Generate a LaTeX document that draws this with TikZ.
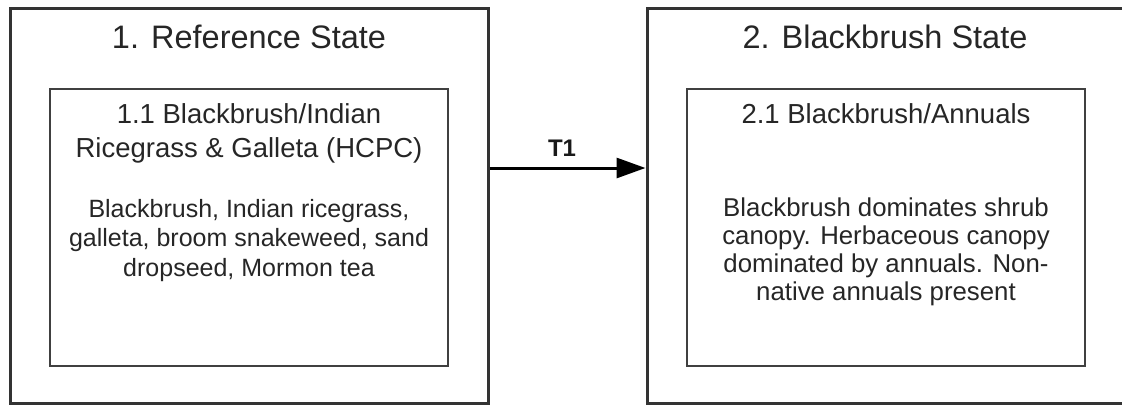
\documentclass[tikz,border=0pt]{standalone}
\usepackage{fontspec}
\setmainfont{Liberation Sans}
\usetikzlibrary{arrows.meta}
\begin{document}
\begin{tikzpicture}[x=1pt,y=-1pt,
  outerbox/.style={draw=black!80,line width=3pt,inner sep=0pt},
  innerbox/.style={draw=black!75,line width=2pt,inner sep=0pt},
  titletext/.style={anchor=base,text=black!85,font=\fontsize{32.5}{38}\selectfont},
  headtext/.style={anchor=base,text=black!85,align=center,font=\fontsize{27.5}{34}\selectfont},
  bodytext/.style={anchor=base,text=black!85,align=center,font=\fontsize{25}{29.5}\selectfont},
  conn/.style={draw=black,line width=3pt,-{Triangle[length=29pt,width=20pt]}},
  connlabel/.style={anchor=base,text=black!90,font=\bfseries\fontsize{24}{28}\selectfont}]
\useasboundingbox (0,0) rectangle (1122,405);
\clip (0,0) rectangle (1122,405);
% outer state boxes
\node[outerbox,minimum width=478pt,minimum height=395pt] (s1) at (249,205.5) {};
\node[outerbox,minimum width=478pt,minimum height=395pt] (s2) at (886,206) {};
% inner community boxes
\node[innerbox,minimum width=398pt,minimum height=277pt] (c1) at (249,227.5) {};
\node[innerbox,minimum width=398pt,minimum height=277pt] (c2) at (886,227.5) {};
% titles
\node[titletext] (t1) at (249,48) {1. Reference State};
\node[titletext] (t2) at (885,48) {2. Blackbrush State};
% inner headers (base anchor = last line baseline)
\node[headtext] (h1) at (249,157) {1.1 Blackbrush/Indian\\Ricegrass \& Galleta (HCPC)};
\node[headtext] (h2) at (886,123) {2.1 Blackbrush/Annuals};
% bodies
\node[bodytext] (b1) at (249,276) {Blackbrush, Indian ricegrass,\\galleta, broom snakeweed, sand\\dropseed, Mormon tea};
\node[bodytext,font=\fontsize{25.8}{28}\selectfont] (b2) at (886,300) {Blackbrush dominates shrub\\canopy. Herbaceous canopy\\dominated by annuals. Non-\\native annuals present};
% transition
\coordinate (a1) at (s1.east |- 0,168);
\coordinate (a2) at (s2.west |- 0,168);
\draw[conn] (a1) -- (a2);
\node[connlabel] (T1) at (562,156) {T1};
\end{tikzpicture}
\end{document}
